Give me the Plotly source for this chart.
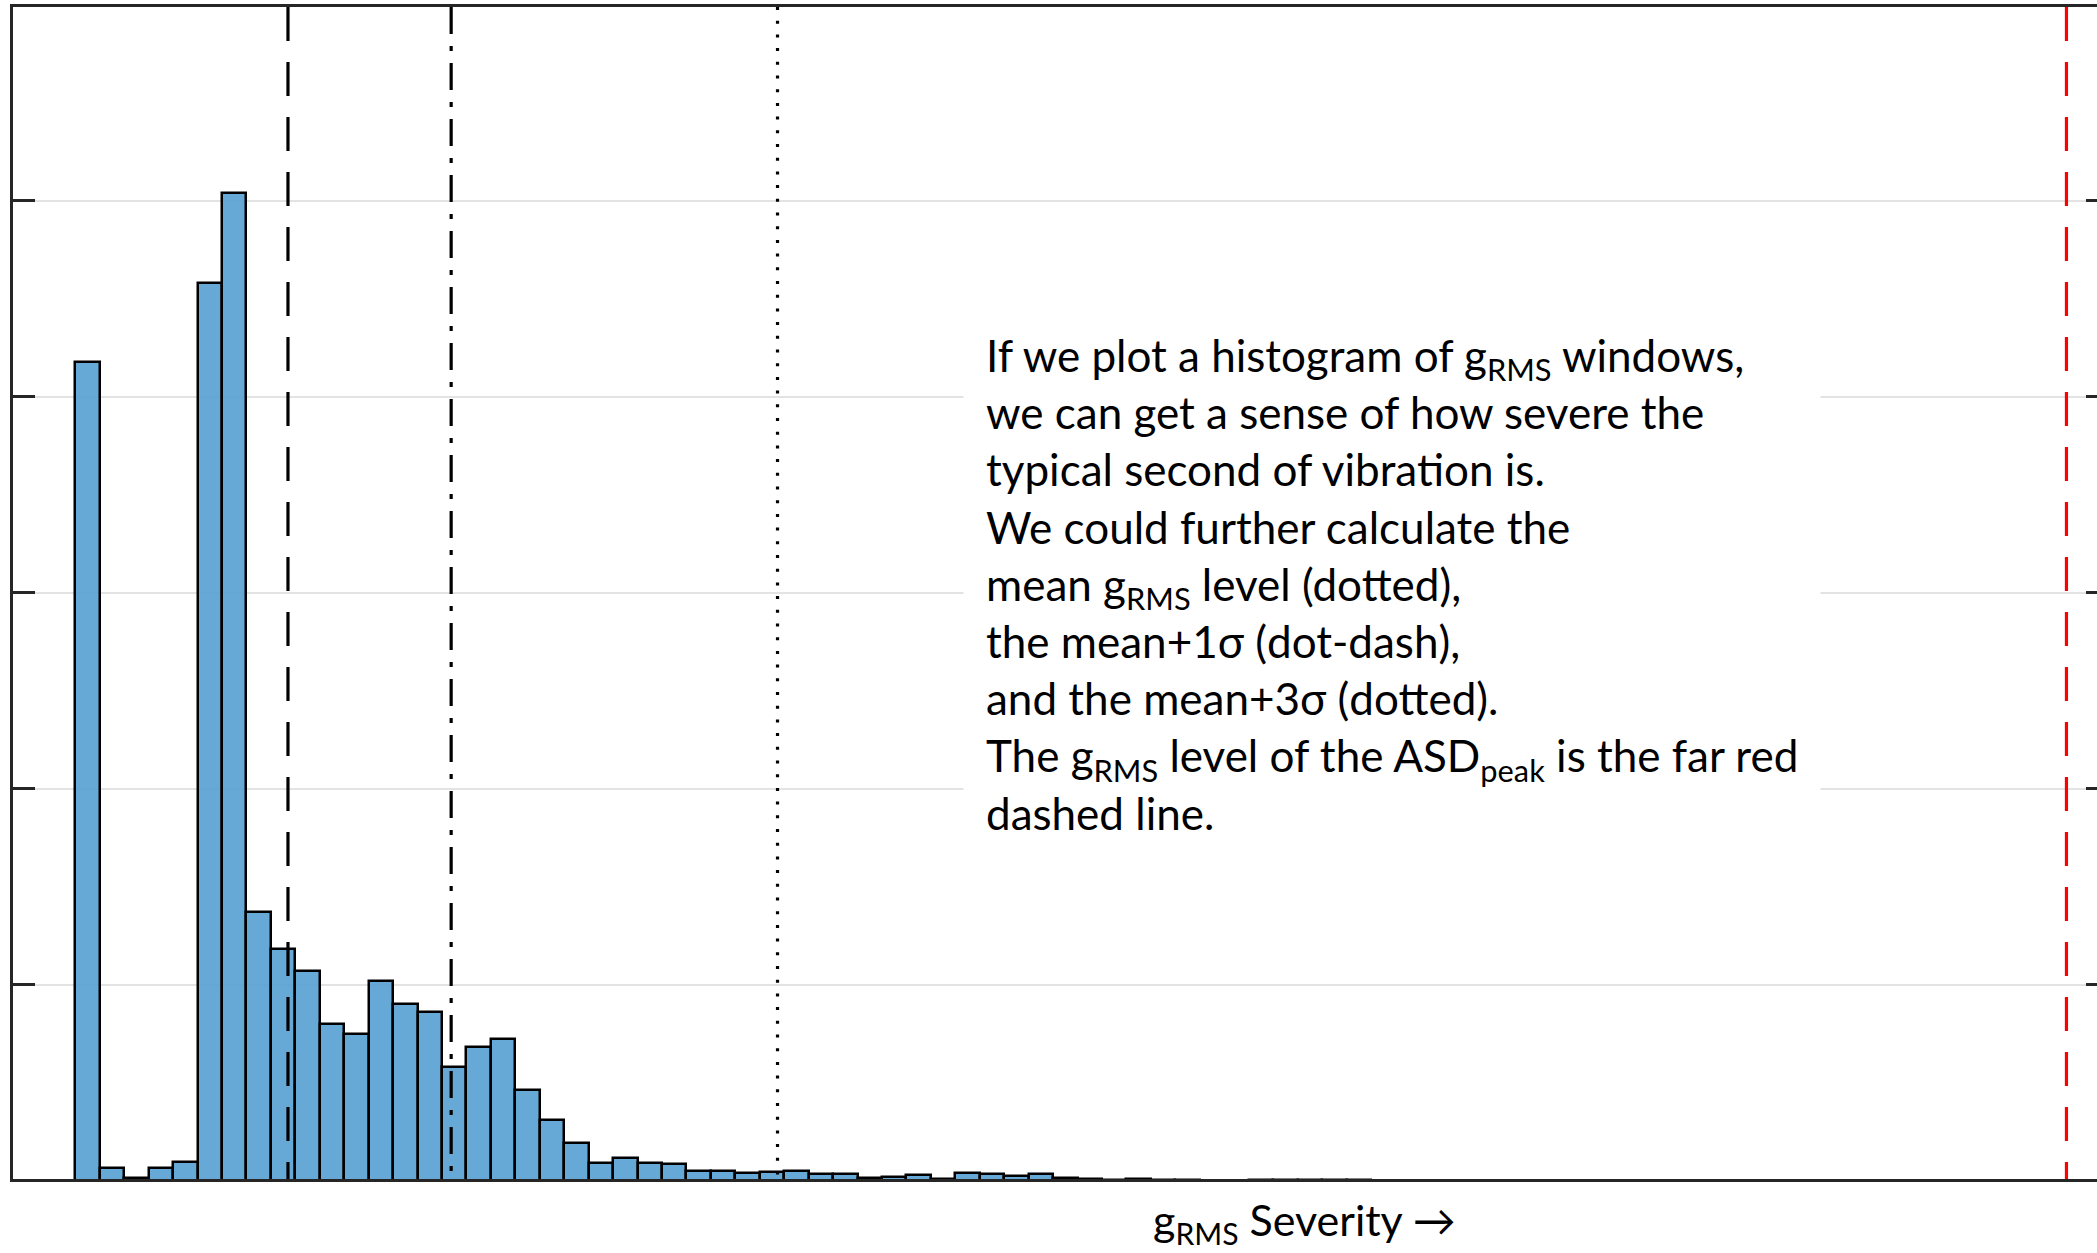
import plotly.graph_objects as go

# ---- data ----
bin_start = 0.0
bin_width = 0.02
counts = [418, 6.6, 1.4, 6.5, 9.3, 458, 504, 137, 118, 107,
          80, 75, 102, 90, 86, 58, 68, 72, 46, 31,
          19, 9, 11.6, 8.7, 8.2, 5.1, 5.1, 3.6, 4.3, 4.6,
          3.2, 3.4, 1.5, 2.0, 2.6, 1.0, 3.7, 3.2, 2.4, 3.2,
          1.5, 1.0, 0.5, 1.0, 0.4, 0.4, 0, 0, 0.4, 0.3,
          0.4, 0.3, 0.5]
mean_grms = 0.174
sigma_grms = 0.1335
asd_peak_grms = 1.629
y_ticks = [0, 100, 200, 300, 400, 500, 600]

bin_centers = [bin_start + (i + 0.5) * bin_width for i in range(len(counts))]

W, H = 2097, 1253
L, T, R, B = 12.7, 6.8, 0, H - 1179.2
AX = "#262626"

fig = go.Figure()
fig.add_trace(go.Bar(
    x=bin_centers, y=counts, width=bin_width,
    marker=dict(color="rgba(85,160,210,0.9)", line=dict(color="black", width=2.5)),
    showlegend=False, hoverinfo="skip"))
fig.add_trace(go.Scatter(x=[], y=[], yaxis="y2", showlegend=False))

lines = [
    (mean_grms, "black", "34px,21px"),
    (mean_grms + sigma_grms, "black", "27px,12px,5px,12px"),
    (mean_grms + 3 * sigma_grms, "black", "3px,10.7px"),
    (asd_peak_grms, "red", "34px,21px"),
]
for xv, col, dash in lines:
    fig.add_shape(type="line", xref="x", yref="paper", x0=xv, x1=xv, y0=1, y1=0,
                  line=dict(color=col, width=3.2, dash=dash), layer="above")

text = ("If we plot a histogram of g<sub>RMS</sub> windows,<br>"
        "we can get a sense of how severe the<br>"
        "typical second of vibration is.<br>"
        "We could further calculate the<br>"
        "mean g<sub>RMS</sub> level (dotted),<br>"
        "the mean+1σ (dot-dash),<br>"
        "and the mean+3σ (dotted).<br>"
        "The g<sub>RMS</sub> level of the ASD<sub>peak</sub> is the far red<br>"
        "dashed line.")
pw = W - L - R
ph = H - T - B
fig.add_annotation(text=text, xref="paper", yref="paper",
                   x=(963 - L) / pw, y=1 - (306 - T) / ph,
                   xanchor="left", yanchor="top", align="left", showarrow=False,
                   bgcolor="white", borderpad=22,
                   font=dict(family="Lato", size=44, color="black"))
fig.add_annotation(text="g<sub>RMS</sub> Severity →", xref="paper", yref="paper",
                   x=(1304 - L) / pw, y=(1179.2 - 1193) / ph,
                   xanchor="center", yanchor="top", showarrow=False, borderpad=0,
                   font=dict(family="Lato", size=43, color="black"))

x_min = bin_start - (75 - L) / 24.45 * bin_width
x_max = bin_start + (W - 75) / 24.45 * bin_width
y_min = (1180.7 - 1179.2) / 1.96
y_max = (1180.7 - T) / 1.96

fig.update_layout(
    width=W, height=H, margin=dict(l=L, r=R, t=T, b=B, pad=0),
    paper_bgcolor="white", plot_bgcolor="white", bargap=0,
    xaxis=dict(range=[x_min, x_max], showline=True, linecolor=AX, linewidth=3,
               mirror=True, ticks="", showticklabels=False, showgrid=False,
               zeroline=False),
    yaxis=dict(range=[y_min, y_max], tickvals=y_ticks, showline=True, linecolor=AX,
               linewidth=3, ticks="inside", ticklen=22, tickwidth=3, tickcolor=AX,
               showticklabels=False, showgrid=True, gridcolor="#e3e3e3",
               gridwidth=2, zeroline=False),
    yaxis2=dict(range=[y_min, y_max], tickvals=y_ticks, overlaying="y", side="right",
                anchor="x", showline=False, ticks="inside", ticklen=11, tickwidth=3,
                tickcolor=AX, showticklabels=False, showgrid=False, zeroline=False),
)
fig.write_html("out.html")
